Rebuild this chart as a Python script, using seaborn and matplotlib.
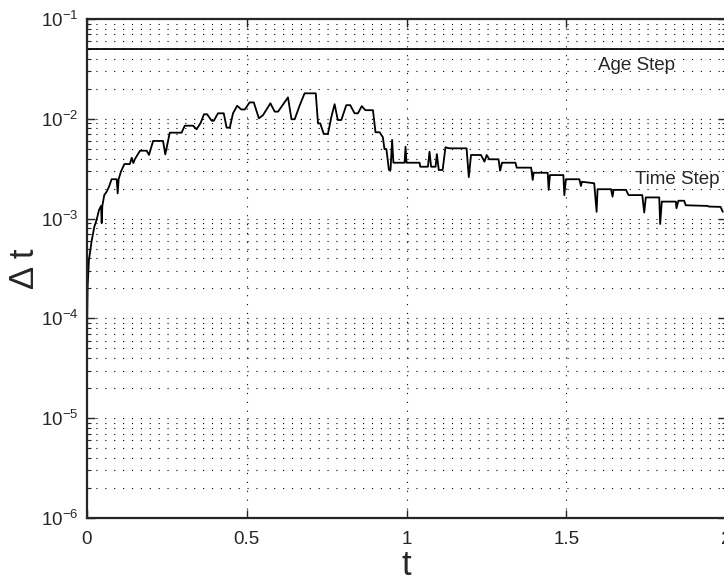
import numpy as np
import pandas as pd
import matplotlib
matplotlib.use('Agg')
import matplotlib.pyplot as plt
import seaborn as sns
from matplotlib.ticker import LogLocator, NullFormatter

# time step history
t = [0.0, 0.002, 0.006, 0.015, 0.023, 0.030, 0.0375, 0.044, 0.046, 0.048,
     0.054, 0.0615, 0.069, 0.077, 0.093, 0.096, 0.099, 0.106, 0.117, 0.134,
     0.140, 0.145, 0.150, 0.166, 0.187, 0.194, 0.207, 0.238, 0.245, 0.259,
     0.296, 0.306, 0.332, 0.343, 0.356, 0.366, 0.376, 0.390, 0.397, 0.410,
     0.428, 0.437, 0.447, 0.457, 0.470, 0.483, 0.494, 0.509, 0.522, 0.538,
     0.551, 0.574, 0.5875, 0.598, 0.629, 0.640, 0.650, 0.666, 0.681, 0.716,
     0.723, 0.730, 0.741, 0.754, 0.765, 0.775, 0.785, 0.796, 0.8115, 0.824,
     0.8375, 0.848, 0.860, 0.871, 0.895, 0.903, 0.916, 0.926, 0.931, 0.937,
     0.945, 0.950, 0.955, 0.959, 0.994, 0.997, 1.000, 1.041, 1.043, 1.067,
     1.072, 1.077, 1.091, 1.095, 1.101, 1.113, 1.122, 1.134, 1.188, 1.195,
     1.202, 1.233, 1.244, 1.251, 1.259, 1.288, 1.293, 1.299, 1.341, 1.345,
     1.390, 1.395, 1.398, 1.442, 1.445, 1.449, 1.491, 1.494, 1.499, 1.541,
     1.546, 1.549, 1.5875, 1.595, 1.598, 1.640, 1.645, 1.648, 1.687, 1.695,
     1.738, 1.744, 1.749, 1.791, 1.794, 1.799, 1.843, 1.845, 1.851, 1.869,
     1.874, 1.942, 1.947, 1.983, 1.99]
dt = [7e-5, 2.08e-4, 3.85e-4, 6.1e-4, 8.3e-4, 9.7e-4, 1.22e-3, 1.34e-3, 9.0e-4, 1.34e-3,
      1.72e-3, 1.86e-3, 2.09e-3, 2.48e-3, 2.48e-3, 1.79e-3, 2.48e-3, 2.95e-3, 3.52e-3, 3.52e-3,
      4.07e-3, 3.6e-3, 3.95e-3, 4.79e-3, 4.79e-3, 4.34e-3, 6.0e-3, 6.0e-3, 4.4e-3, 7.26e-3,
      7.26e-3, 8.53e-3, 8.53e-3, 7.85e-3, 9.14e-3, 1.11e-2, 1.11e-2, 9.57e-3, 9.57e-3, 1.135e-2,
      1.135e-2, 8.15e-3, 8.15e-3, 1.135e-2, 1.35e-2, 1.24e-2, 1.24e-2, 1.46e-2, 1.46e-2, 1.01e-2,
      1.09e-2, 1.43e-2, 1.18e-2, 1.18e-2, 1.64e-2, 9.9e-3, 9.9e-3, 1.37e-2, 1.80e-2, 1.80e-2,
      9.0e-3, 9.0e-3, 7.05e-3, 7.05e-3, 1.05e-2, 1.40e-2, 9.73e-3, 9.73e-3, 1.37e-2, 1.37e-2,
      1.135e-2, 1.135e-2, 1.34e-2, 1.22e-2, 1.22e-2, 7.33e-3, 7.33e-3, 6.53e-3, 4.98e-3, 4.98e-3,
      3.07e-3, 3.07e-3, 6.14e-3, 3.63e-3, 3.63e-3, 5.25e-3, 3.63e-3, 3.63e-3, 3.31e-3, 3.31e-3,
      4.68e-3, 3.31e-3, 3.31e-3, 4.43e-3, 3.07e-3, 3.07e-3, 5.18e-3, 5.06e-3, 5.06e-3, 2.6e-3,
      4.34e-3, 4.34e-3, 3.72e-3, 4.34e-3, 3.93e-3, 3.93e-3, 3.02e-3, 3.63e-3, 3.63e-3, 3.24e-3,
      3.24e-3, 2.44e-3, 2.88e-3, 2.88e-3, 1.94e-3, 2.73e-3, 2.73e-3, 1.72e-3, 2.48e-3, 2.48e-3,
      2.12e-3, 2.34e-3, 2.26e-3, 1.17e-3, 1.97e-3, 1.97e-3, 1.66e-3, 1.94e-3, 1.94e-3, 1.72e-3,
      1.72e-3, 1.15e-3, 1.63e-3, 1.63e-3, 8.83e-4, 1.48e-3, 1.48e-3, 1.27e-3, 1.51e-3, 1.51e-3,
      1.36e-3, 1.34e-3, 1.32e-3, 1.31e-3, 1.17e-3]
age_step = 0.05
x_ticks = [0, 0.5, 1, 1.5, 2]

df = pd.DataFrame({'t': t, 'dt': dt})

sns.set_style('ticks')
plt.rcParams['font.family'] = ['Liberation Sans', 'DejaVu Sans']

fig = plt.figure(figsize=(7.24, 5.81), dpi=100)
ax = fig.add_axes([87 / 724, 1 - 518 / 581, 639 / 724, 499 / 581])

sns.lineplot(data=df, x='t', y='dt', ax=ax, color='black', linewidth=1.3,
             estimator=None, sort=False)
ax.axhline(age_step, color='black', linewidth=1.3)

ax.set_yscale('log')
ax.set_xlim(0, 2)
ax.set_ylim(1e-6, 1e-1)
ax.set_xticks(x_ticks)
ax.set_xticklabels(['0', '0.5', '1', '1.5', '2'])
ax.yaxis.set_major_locator(LogLocator(base=10, numticks=10))
ax.yaxis.set_minor_locator(LogLocator(base=10, subs=np.arange(2, 10), numticks=20))
ax.yaxis.set_minor_formatter(NullFormatter())

# matlab style dotted grid
dots = (0, (1, 7))
ax.grid(True, which='major', axis='both', color='black', linestyle=dots, linewidth=0.8)
ax.grid(True, which='minor', axis='y', color='black', linestyle=dots, linewidth=0.8)

for s in ax.spines.values():
    s.set_linewidth(1.6)
    s.set_visible(True)
ax.tick_params(which='major', direction='in', length=6, width=1.0,
               top=True, right=True, labelsize=13.5, pad=6)
ax.tick_params(axis='x', which='major', pad=9)
ax.tick_params(which='minor', direction='in', length=3, width=0.8,
               top=True, right=True)

ax.set_xlabel('t', fontsize=25, labelpad=1)
ax.set_ylabel('\u0394 t', fontsize=25, labelpad=0)

ax.text(1.60, 0.034, 'Age Step', fontsize=13.5, va='center', ha='left')
ax.text(1.716, 0.00245, 'Time Step', fontsize=13.5, va='center', ha='left')

fig.savefig('out.png', dpi=100)
